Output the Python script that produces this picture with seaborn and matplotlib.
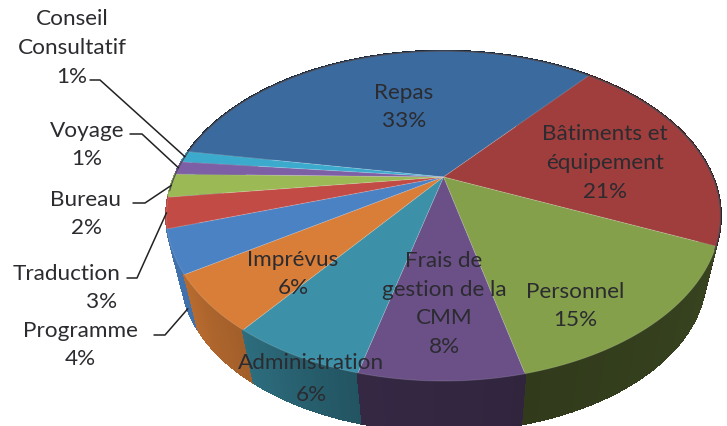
import numpy as np
import seaborn as sns
import matplotlib.pyplot as plt

names = ['Repas', 'Bâtiments et\néquipement', 'Personnel', 'Frais de\ngestion de la\nCMM', 'Administration',
         'Imprévus', 'Programme', 'Traduction', 'Bureau', 'Voyage', 'Conseil\nConsultatif']
shares = [33.4, 20.6, 14.7, 7.7, 6.4, 5.5, 4.2, 3.0, 2.3, 1.3, 1.1]
percents = ['33%', '21%', '15%', '8%', '6%', '6%', '4%', '3%', '2%', '1%', '1%']

colors = sns.color_palette(['#3a6a9e', '#a03d3d', '#85a04b', '#6a5087', '#3c91a8', '#d87e38',
                            '#4b82c3', '#c34b46', '#9bb955', '#7d5fa5', '#3caacd'])
side_shade = [(.4, .4), (.42, .42), (.42, .37), (.46, .5), (.58, .75), (.75, .85), (.88, .88),
              (.9, .9), (.9, .9), (.9, .9), (.9, .9)]
text_pos = [(404, 107, 1.56), (605, 163, 1.56), (575, 306, 1.56), (444, 304, 1.56), (311, 379, 1.73),
            (293, 274, 1.56), (80, 345, 1.56), (0, 0, 1.56), (86, 214, 1.56), (87, 145, 1.56), (72, 48, 1.56)]
elbows = {6: (154, 165, 336), 7: (127, 137, 279), 8: (133, 145, 204), 9: (130, 142, 135), 10: (90, 100, 81)}

sns.set_theme(style='white')
plt.rcParams['font.family'] = ['Lato', 'DejaVu Sans']
ink = '#2b2b30'
size = 16.2

# perspective of the disc: apex, radii, foreshortening, vanishing point of the wall
x0, y0, rx, ry, k = 443.5, 178, 269.2, 155.8, 0.2364
vx, vy, depth = 447, 1310, 0.054
start = -80.3


def project(theta, lower=False):
    a = np.radians(theta)
    w = 1 + k * np.cos(a)
    x = x0 + rx * np.sin(a) / w
    y = y0 - ry * np.cos(a) / w
    if lower:
        x = vx + (x - vx) * (1 - depth)
        y = vy + (y - vy) * (1 - depth)
    return x, y


fig, ax = plt.subplots(figsize=(7.27, 4.27), dpi=100)
fig.subplots_adjust(0, 0, 1, 1)
ax.set_xlim(0, 727)
ax.set_ylim(427, 0)
ax.axis('off')

edges = start + np.cumsum([0] + shares) / sum(shares) * 360
strips = []
for i in range(len(shares)):
    arc = np.linspace(edges[i], edges[i + 1], 40)
    # wall in thin strips so it can darken along the slice
    for j in range(len(arc) - 1):
        xa, ya = project(arc[j:j + 2])
        xb, yb = project(arc[j:j + 2][::-1], lower=True)
        s = np.interp(j, [0, len(arc) - 2], side_shade[i])
        c = tuple(np.array(colors[i]) * s)
        strips.append((-np.cos(np.radians(arc[j])), np.r_[xa, xb], np.r_[ya, yb], c))
    x, y = project(arc)
    ax.fill(np.r_[x0, x], np.r_[y0, y], facecolor=colors[i], edgecolor=(1, 1, 1, 0.14), lw=0.7, zorder=2)

# back strips first so the nearer ones cover them
for _, xs, ys, c in sorted(strips, key=lambda st: st[0]):
    ax.fill(xs, ys, color=c, lw=1.2, antialiased=False, zorder=1)

rim = np.linspace(-95, 115, 200)
ax.plot(*project(rim), color='#4a4a55', lw=0.8, zorder=3)

for i, name in enumerate(names):
    if i == 7:
        ax.text(67, 274, name, ha='center', va='center', color=ink, fontsize=size)
        ax.text(102, 302, percents[i], ha='center', va='center', color=ink, fontsize=size)
    else:
        px, py, gap = text_pos[i]
        ax.text(px, py, name + '\n' + percents[i], ha='center', va='center', ma='center',
                color=ink, fontsize=size, linespacing=gap, zorder=4)
    if i in elbows:
        mid = (edges[i] + edges[i + 1]) / 2
        ex, ey = project(mid, lower=(i == 6))
        e0, e1, ye = elbows[i]
        ax.plot([e0, e1, ex], [ye, ye, ey], color='#222222', lw=1.1, zorder=3)

fig.savefig('out.png', dpi=100)
